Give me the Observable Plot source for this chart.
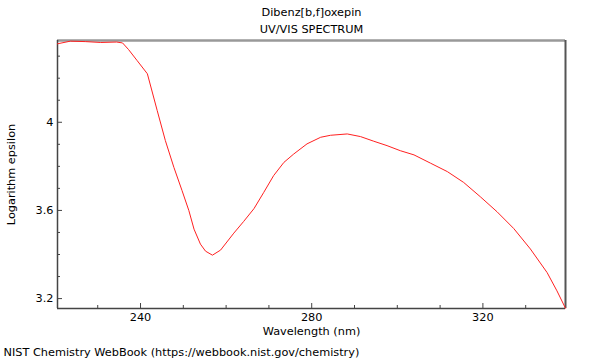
<!DOCTYPE html>
<html>
<head>
<meta charset="utf-8">
<script src="https://cdn.jsdelivr.net/npm/d3@7"></script>
<script src="https://cdn.jsdelivr.net/npm/@observablehq/plot@0.6"></script>
<style>
  body { margin: 0; background: #fff; }
  #chart svg { display: block; }
</style>
</head>
<body>
<div id="chart"></div>
<script>
const titleText = "Dibenz[b,f]oxepin";
const subtitleText = "UV/VIS SPECTRUM";
const xLabelText = "Wavelength (nm)";
const yLabelText = "Logarithm epsilon";
const captionText = "NIST Chemistry WebBook (https://webbook.nist.gov/chemistry)";

const wavelength = [220.6, 223.6, 227.1, 230.7, 234.4, 235.8, 237.2, 239.2, 241.6, 243.9, 245.8, 247.8, 249.7, 251.3, 252.5, 254.0, 255.2, 256.8, 258.7, 261.8, 264.1, 266.5, 268.8, 271.1, 273.5, 275.8, 278.9, 282.1, 284.4, 288.3, 291.4, 294.5, 297.6, 300.7, 303.9, 307.8, 311.7, 315.5, 319.4, 323.3, 327.2, 331.1, 335.0, 337.3, 339.3];
const logEpsilon = [4.356, 4.368, 4.366, 4.362, 4.364, 4.360, 4.330, 4.280, 4.220, 4.053, 3.917, 3.795, 3.690, 3.599, 3.515, 3.447, 3.415, 3.397, 3.420, 3.497, 3.550, 3.608, 3.682, 3.758, 3.818, 3.856, 3.902, 3.932, 3.941, 3.947, 3.935, 3.914, 3.894, 3.871, 3.852, 3.814, 3.776, 3.727, 3.662, 3.594, 3.518, 3.425, 3.318, 3.235, 3.156];

const xDomain = [220.6, 339.3];
const yDomain = [3.155, 4.371];
const xMajorTicks = [240, 280, 320];
const xMinorTicks = [230, 250, 260, 270, 290, 300, 310, 330];
const yMajorTicks = [3.2, 3.6, 4];
const yTickLabels = ["3.2", "3.6", "4"];
const yMinorTicks = [3.3, 3.4, 3.5, 3.7, 3.8, 3.9, 4.1, 4.2, 4.3];

const data = wavelength.map((w, i) => ({w, e: logEpsilon[i]}));
const axisColor = "#444";
const fs = 11.3;

const chart = Plot.plot({
  width: 600,
  height: 360,
  marginTop: 40,
  marginBottom: 52,
  marginLeft: 57,
  marginRight: 35,
  style: {fontFamily: "DejaVu Sans", fontSize: fs + "px", color: "#000", background: "#fff"},
  x: {domain: xDomain, label: null},
  y: {domain: yDomain, label: null},
  marks: [
    // frame
    Plot.ruleY([yDomain[1]], {stroke: "#999", strokeWidth: 2.5}),
    Plot.ruleX([xDomain[1]], {stroke: "#555", strokeWidth: 2}),
    Plot.ruleX([xDomain[0]], {stroke: axisColor, strokeWidth: 1.5}),
    Plot.ruleY([yDomain[0]], {stroke: axisColor, strokeWidth: 1.5}),
    // ticks (inward)
    Plot.axisY(yMajorTicks, {tickSize: 5, dx: 5, tickFormat: () => "", label: null, stroke: axisColor}),
    Plot.axisY(yMinorTicks, {tickSize: 3, dx: 3, tickFormat: () => "", label: null, stroke: axisColor}),
    Plot.axisX(xMajorTicks, {tickSize: 5, dy: -5, tickFormat: () => "", label: null, stroke: axisColor}),
    Plot.axisX(xMinorTicks, {tickSize: 3, dy: -3, tickFormat: () => "", label: null, stroke: axisColor}),
    // tick labels
    Plot.axisY(yMajorTicks, {tickSize: 0, tickPadding: 4, label: null, fill: "#000", fontSize: fs,
      tickFormat: (d) => yTickLabels[yMajorTicks.indexOf(d)]}),
    Plot.axisX(xMajorTicks, {tickSize: 0, tickPadding: 4, label: null, fill: "#000", fontSize: fs}),
    // curve
    Plot.line(data, {x: "w", y: "e", stroke: "#ff2020", strokeWidth: 1}),
    // texts
    Plot.text([titleText], {frameAnchor: "top", dy: -28, lineAnchor: "middle", fill: "#000", fontSize: fs}),
    Plot.text([subtitleText], {frameAnchor: "top", dy: -11, lineAnchor: "middle", fill: "#000", fontSize: fs}),
    Plot.text([xLabelText], {frameAnchor: "bottom", dy: 23, lineAnchor: "middle", fill: "#000", fontSize: fs}),
    Plot.text([yLabelText], {frameAnchor: "left", dx: -46, rotate: -90, textAnchor: "middle", lineAnchor: "middle", fill: "#000", fontSize: fs}),
    Plot.text([captionText], {frameAnchor: "bottom-left", dx: -54, dy: 44, textAnchor: "start", lineAnchor: "middle", fill: "#000", fontSize: fs})
  ]
});
document.getElementById("chart").appendChild(chart);
</script>
</body>
</html>
